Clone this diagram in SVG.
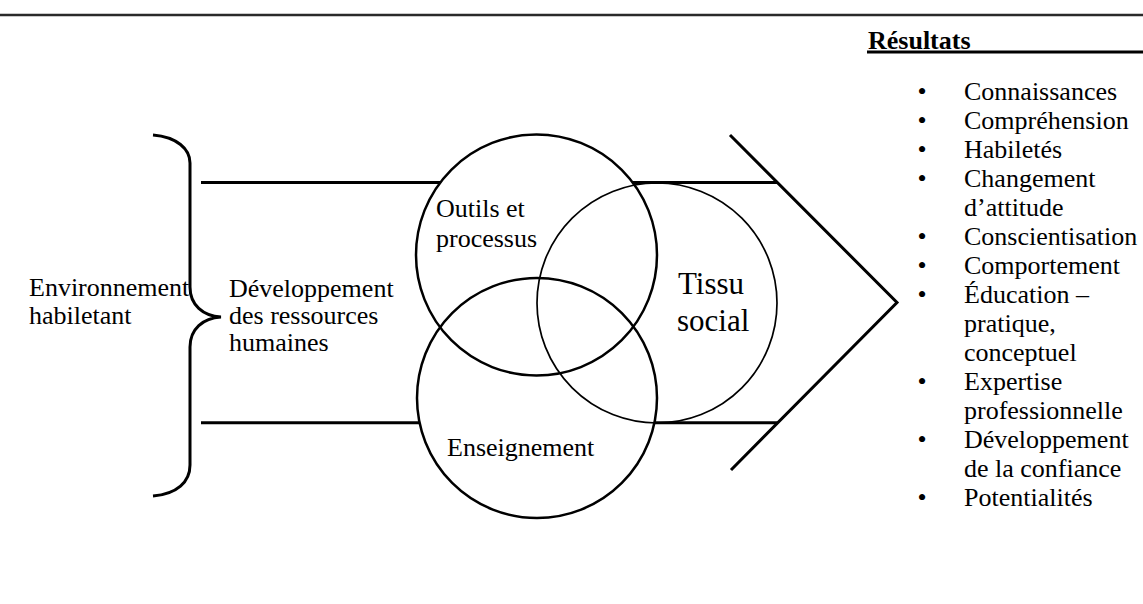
<svg xmlns="http://www.w3.org/2000/svg" width="1143" height="604" viewBox="0 0 1143 604">
  <style>
    .txt { font-family: "Liberation Serif", "Times New Roman", serif; font-size: 26px; fill: #000; }
    .big { font-size: 31px; }
    .bold { font-weight: bold; }
    .rule { stroke: #000; stroke-width: 3; fill: none; }
    .ring { stroke: #000; stroke-width: 2.5; fill: none; }
    .ring-thin { stroke: #000; stroke-width: 1.7; fill: none; }
  </style>

  <rect width="1143" height="604" fill="#fff"/>

  <!-- page header rule -->
  <line x1="0" y1="15" x2="1143" y2="15" stroke="#2a2a2a" stroke-width="2.5"/>

  <!-- brace -->
  <g id="brace">
    <path class="rule" stroke-width="2.5" d="M153,135 C177,137 190,149 190,163 L190,287 C190,305 203,316 221,317 C203,318 190,329 190,347 L190,465 C190,482 177,494 153,496"/>
    <text class="txt" x="29" y="296">Environnement</text>
    <text class="txt" x="29" y="324">habiletant</text>
  </g>

  <!-- connectors: band lines and chevron -->
  <g id="connectors">
    <line class="rule" x1="201" y1="182.5" x2="440" y2="182.5"/>
    <line class="rule" x1="633" y1="182.5" x2="778" y2="182.5"/>
    <line class="rule" x1="201" y1="422.7" x2="419" y2="422.7"/>
    <line class="rule" x1="655" y1="422.7" x2="778" y2="422.7"/>
    <polyline class="rule" points="730,135 897,302.5 731,470"/>
  </g>

  <g id="hr-development">
    <text class="txt" x="229" y="297">Développement</text>
    <text class="txt" x="229" y="324">des ressources</text>
    <text class="txt" x="229" y="351">humaines</text>
  </g>

  <g id="node-tissu">
    <circle class="ring-thin" cx="657" cy="303" r="120"/>
    <text class="txt big" x="678" y="294">Tissu</text>
    <text class="txt big" x="677" y="331">social</text>
  </g>

  <g id="node-outils">
    <circle class="ring" cx="536.5" cy="255" r="120.5"/>
    <text class="txt" x="436" y="217">Outils et</text>
    <text class="txt" x="436" y="247">processus</text>
  </g>

  <g id="node-enseignement">
    <circle class="ring" cx="537" cy="398" r="120"/>
    <text class="txt" x="447" y="456">Enseignement</text>
  </g>

  <!-- outcomes list -->
  <g id="resultats">
    <text class="txt bold" x="868" y="49">Résultats</text>
    <line x1="867" y1="52" x2="1143" y2="52" stroke="#000" stroke-width="3"/>
    <g class="txt">
      <text x="922" y="100" text-anchor="middle">•</text><text x="964" y="100">Connaissances</text>
      <text x="922" y="129" text-anchor="middle">•</text><text x="964" y="129">Compréhension</text>
      <text x="922" y="158" text-anchor="middle">•</text><text x="964" y="158">Habiletés</text>
      <text x="922" y="187" text-anchor="middle">•</text><text x="964" y="187">Changement</text>
      <text x="964" y="216">d’attitude</text>
      <text x="922" y="245" text-anchor="middle">•</text><text x="964" y="245">Conscientisation</text>
      <text x="922" y="274" text-anchor="middle">•</text><text x="964" y="274">Comportement</text>
      <text x="922" y="303" text-anchor="middle">•</text><text x="964" y="303">Éducation –</text>
      <text x="964" y="332">pratique,</text>
      <text x="964" y="361">conceptuel</text>
      <text x="922" y="390" text-anchor="middle">•</text><text x="964" y="390">Expertise</text>
      <text x="964" y="419">professionnelle</text>
      <text x="922" y="448" text-anchor="middle">•</text><text x="964" y="448">Développement</text>
      <text x="964" y="477">de la confiance</text>
      <text x="922" y="506" text-anchor="middle">•</text><text x="964" y="506">Potentialités</text>
    </g>
  </g>
</svg>
